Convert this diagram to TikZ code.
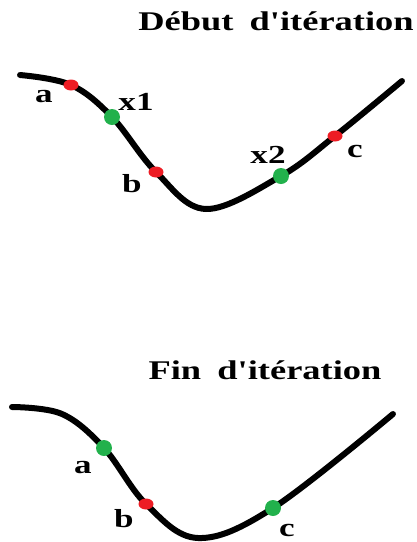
\documentclass[tikz,border=0pt]{standalone}
\usepackage{fontspec}
\setmainfont{Liberation Serif}
\usepackage{graphicx}
\usepackage{tikz}
\usetikzlibrary{positioning,shapes.geometric}
\definecolor{pointrouge}{RGB}{237,28,36}
\definecolor{pointvert}{RGB}{34,177,76}
\newcommand{\etire}[1]{\scalebox{1.35}[1]{#1}}

\begin{document}
\begin{tikzpicture}[
  x=1pt, y=-1pt,
  courbe/.style={line width=6pt, line cap=round, black},
  rouge/.style={ellipse, fill=pointrouge, minimum width=15pt, minimum height=11pt, inner sep=0pt},
  vert/.style={circle, fill=pointvert, minimum size=16pt, inner sep=0pt},
  titre/.style={font=\bfseries\fontsize{27}{30}\selectfont, inner sep=0pt, anchor=base},
  lbl/.style={font=\bfseries\fontsize{26}{28}\selectfont, inner sep=0pt, anchor=base}
]
\useasboundingbox (0,0) rectangle (416,542);

% debut d'iteration
\node[titre] (titre1) at (276,30) {\etire{Début\hspace{12pt}d\textquotesingle itération}};
\coordinate (s1) at (20,75);
\coordinate (pa1) at (71,85);
\coordinate (px1) at (112,117);
\coordinate (pb1) at (156,172);
\coordinate (r1) at (206,209);
\coordinate (px2) at (281,176);
\coordinate (pc1) at (335,136);
\coordinate (e1) at (402,81);
\draw[courbe] plot[smooth, tension=0.6] coordinates {(s1) (pa1) (px1) (pb1) (r1) (px2) (pc1) (e1)};
\node[rouge] (a1) at (pa1) {};
\node[vert] (x1) at (px1) {};
\node[rouge] (b1) at (pb1) {};
\node[vert] (x2) at (px2) {};
\node[rouge] (c1) at (pc1) {};
\node[lbl] (la1) at (44,102) {\etire{a}};
\node[lbl] (lx1) at (136,110) {\etire{x1}};
\node[lbl] (lb1) at (132,192) {\etire{b}};
\node[lbl] (lx2) at (268,163) {\etire{x2}};
\node[lbl] (lc1) at (355,157) {\etire{c}};

% fin d'iteration
\node[titre] (titre2) at (265,379) {\etire{Fin\hspace{12pt}d\textquotesingle itération}};
\coordinate (s2) at (12,407);
\coordinate (k2) at (62,414);
\coordinate (pa2) at (104,448);
\coordinate (pb2) at (146,504);
\coordinate (r2) at (198,538);
\coordinate (pc2) at (273,508);
\coordinate (e2) at (393,414);
\draw[courbe] plot[smooth, tension=0.6] coordinates {(s2) (k2) (pa2) (pb2) (r2) (pc2) (e2)};
\node[vert] (a2) at (pa2) {};
\node[rouge] (b2) at (pb2) {};
\node[vert] (c2) at (pc2) {};
\node[lbl] (la2) at (83,473) {\etire{a}};
\node[lbl] (lb2) at (124,527) {\etire{b}};
\node[lbl] (lc2) at (287,536) {\etire{c}};
\end{tikzpicture}
\end{document}
